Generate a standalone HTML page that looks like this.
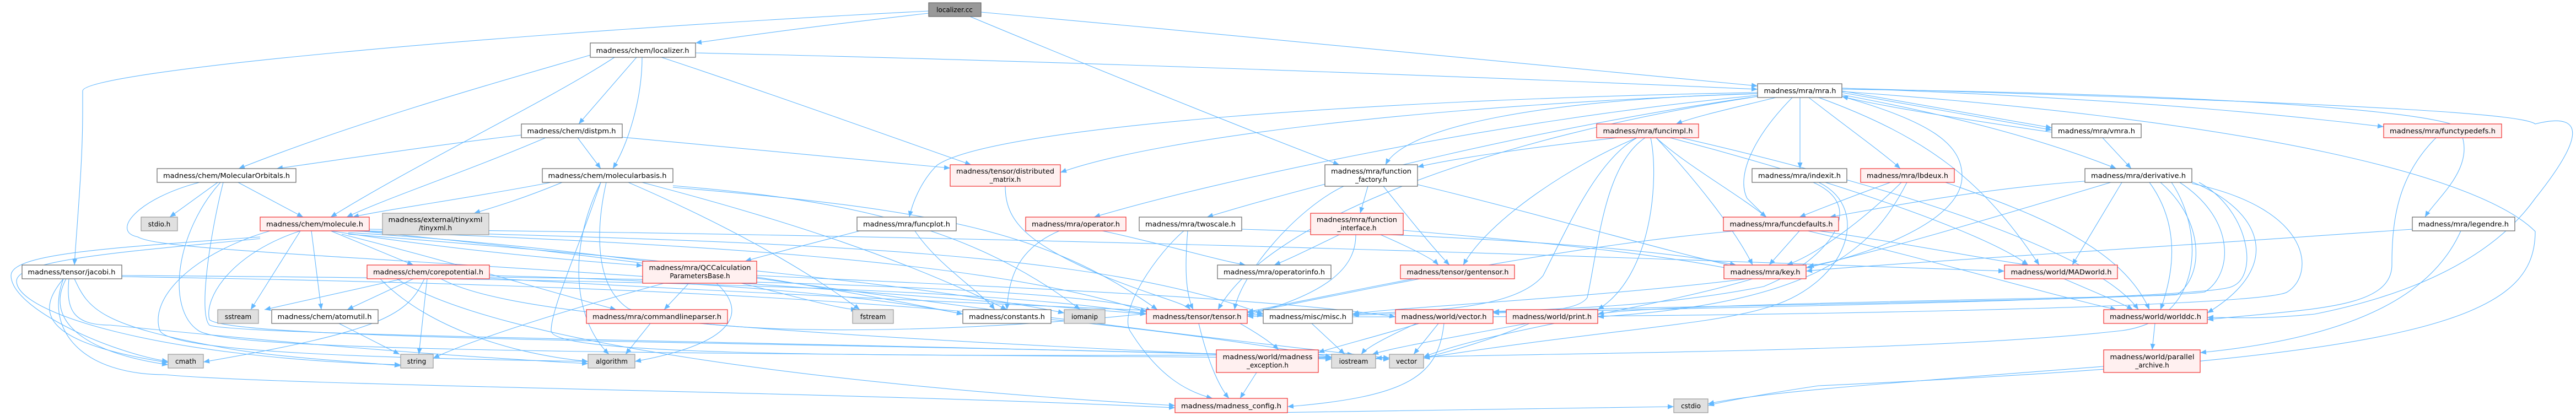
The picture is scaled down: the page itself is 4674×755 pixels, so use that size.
<!DOCTYPE html>
<html><head><meta charset="utf-8"><style>
html,body{margin:0;padding:0;background:#fff;}
svg{display:block;}
.e{fill:none;stroke:#63b8ff;stroke-width:1.1;marker-end:url(#a);}
.w{fill:#fff;stroke:#666;stroke-width:1.2;}
.r{fill:#fff0f0;stroke:#f03030;stroke-width:1.2;}
.g{fill:#e0e0e0;stroke:#999;stroke-width:1.2;}
.c{fill:#999;stroke:#666;stroke-width:1.2;}
text{font-family:"DejaVu Sans","Liberation Sans",sans-serif;font-size:12px;fill:#000;text-anchor:middle;}
</style></head><body>
<svg width="4674" height="755" viewBox="0 0 4674 755" xmlns="http://www.w3.org/2000/svg">
<defs><marker id="a" markerUnits="userSpaceOnUse" markerWidth="12" markerHeight="10" refX="11" refY="5" orient="auto"><path d="M0,0.5 L11,5 L0,9.5 z" fill="#63b8ff"/></marker></defs>
<g>
<path class="e" d="M1685,24 C1500,45 1350,65 1262,78"/>
<path class="e" d="M1780,22 C2300,70 2900,125 3189,156"/>
<path class="e" d="M1685,20 C900,60 150,130 150,165 L150,200 C150,300 140,400 135,481"/>
<path class="e" d="M1760,30 C2000,130 2300,250 2430,299"/>
<path class="e" d="M1071,100 C900,150 650,220 433,306"/>
<path class="e" d="M1115,104 C1000,180 750,300 600,394"/>
<path class="e" d="M1155,104 L1050,225"/>
<path class="e" d="M1165,104 C1165,180 1140,260 1112,306"/>
<path class="e" d="M1200,104 C1400,170 1650,260 1762,299"/>
<path class="e" d="M1262,96 C1900,110 2700,140 3189,162"/>
<path class="e" d="M946,245 C800,262 650,285 502,306"/>
<path class="e" d="M990,250 C850,310 700,360 629,394"/>
<path class="e" d="M1048,250 L1090,306"/>
<path class="e" d="M1129,249 C1400,275 1600,295 1724,305"/>
<path class="e" d="M395,331 L308,394"/>
<path class="e" d="M432,331 L550,394"/>
<path class="e" d="M362,331 C250,360 200,420 250,430 C300,460 800,465 2080,570"/>
<path class="e" d="M400,331 C320,420 300,560 360,600 C420,640 1200,640 2416,650"/>
<path class="e" d="M405,331 C380,430 360,570 380,590 C420,610 1500,620 2521,652"/>
<path class="e" d="M1020,331 C950,360 900,375 860,387"/>
<path class="e" d="M1000,331 C850,360 700,380 640,394"/>
<path class="e" d="M1090,331 C1030,450 1040,580 1105,643"/>
<path class="e" d="M1100,331 C1080,420 1080,520 1140,560 C1300,620 1800,600 2090,568"/>
<path class="e" d="M1140,331 C1300,400 1450,480 1560,562"/>
<path class="e" d="M1165,331 C1350,380 1600,450 1827,562"/>
<path class="e" d="M1221,337 C1500,360 1750,400 1960,562"/>
<path class="e" d="M1221,340 C1700,380 1900,420 2100,562"/>
<path class="e" d="M1090,331 C1050,450 1000,560 1000,600 C1000,640 1400,650 2456,643"/>
<path class="e" d="M545,419 L455,562"/>
<path class="e" d="M565,419 L583,562"/>
<path class="e" d="M600,419 L750,481"/>
<path class="e" d="M472,430 C200,450 20,460 20,500 C20,560 200,640 305,656"/>
<path class="e" d="M472,433 C250,455 30,470 30,510 C30,570 300,650 727,662"/>
<path class="e" d="M490,419 C350,460 270,540 290,600 C310,640 700,650 1067,656"/>
<path class="e" d="M545,419 C420,460 370,540 380,580 C420,620 1500,620 2416,648"/>
<path class="e" d="M600,419 C800,450 1000,470 1166,482"/>
<path class="e" d="M632,419 C1200,440 1800,470 2080,566"/>
<path class="e" d="M632,422 C1100,450 1500,520 1747,570"/>
<path class="e" d="M632,425 C1200,470 1700,520 1931,568"/>
<path class="e" d="M620,425 C800,470 1000,530 1118,562"/>
<path class="e" d="M670,419 C1500,440 2000,460 2292,570"/>
<path class="e" d="M670,416 C2000,430 3000,470 3637,492"/>
<path class="e" d="M650,419 C1200,470 1700,560 2521,650"/>
<path class="e" d="M730,506 L480,562"/>
<path class="e" d="M750,506 L630,562"/>
<path class="e" d="M770,506 C740,570 700,600 369,657"/>
<path class="e" d="M775,506 L760,643"/>
<path class="e" d="M690,506 C760,580 900,640 1067,656"/>
<path class="e" d="M800,506 C900,560 1200,600 2416,652"/>
<path class="e" d="M888,503 C1500,510 2000,530 2090,565"/>
<path class="e" d="M888,500 C1300,510 1600,540 1747,570"/>
<path class="e" d="M888,505 C1500,540 2000,560 2292,572"/>
<path class="e" d="M720,506 C900,620 1500,700 2132,736"/>
<path class="e" d="M615,587 L725,643"/>
<path class="e" d="M115,506 C70,560 60,620 305,658"/>
<path class="e" d="M120,506 C80,580 150,640 305,662"/>
<path class="e" d="M125,506 C120,560 130,590 200,590 C400,610 700,640 1067,660"/>
<path class="e" d="M135,506 C160,560 180,590 400,630 C500,650 700,660 727,664"/>
<path class="e" d="M115,506 C80,600 150,680 300,680 C500,700 1500,710 2132,740"/>
<path class="e" d="M221,500 C1000,505 1800,520 2080,570"/>
<path class="e" d="M221,502 C1000,515 1800,540 2416,648"/>
<path class="e" d="M1250,514 L1205,562"/>
<path class="e" d="M1205,514 C1000,570 850,620 786,650"/>
<path class="e" d="M1300,514 C1350,560 1350,620 1152,656"/>
<path class="e" d="M1345,514 C1450,540 1520,560 1555,562"/>
<path class="e" d="M1373,500 C1800,520 2300,540 2532,575"/>
<path class="e" d="M1180,587 L1135,643"/>
<path class="e" d="M1660,419 C1700,480 1780,530 1805,562"/>
<path class="e" d="M1560,419 C1480,440 1400,460 1352,474"/>
<path class="e" d="M1824,338 C1824,400 1860,440 2000,500 C2100,540 2150,550 2160,562"/>
<path class="e" d="M1922,419 C1850,450 1830,500 1827,562"/>
<path class="e" d="M2000,419 C2100,440 2200,470 2260,481"/>
<path class="e" d="M2148,419 C2100,460 2030,560 2050,600 C2100,680 2150,710 2200,723"/>
<path class="e" d="M2155,419 C2150,480 2150,530 2165,562"/>
<path class="e" d="M2253,416 C2700,430 3000,450 3150,481"/>
<path class="e" d="M2175,587 C2190,650 2210,700 2230,723"/>
<path class="e" d="M2250,587 C2290,610 2310,625 2320,635"/>
<path class="e" d="M2280,676 L2250,723"/>
<path class="e" d="M2380,587 L2440,643"/>
<path class="e" d="M2570,587 C2520,610 2480,630 2470,643"/>
<path class="e" d="M2610,587 L2565,643"/>
<path class="e" d="M2575,587 C2500,610 2420,630 2392,640"/>
<path class="e" d="M2620,587 C2610,680 2560,720 2336,738"/>
<path class="e" d="M2770,587 C2650,610 2530,630 2490,643"/>
<path class="e" d="M2775,587 C2700,620 2620,640 2583,650"/>
<path class="e" d="M2482,338 L2468,387"/>
<path class="e" d="M2510,338 C2560,400 2600,450 2630,481"/>
<path class="e" d="M2438,338 C2350,380 2250,500 2240,562"/>
<path class="e" d="M2572,335 C2800,390 3000,450 3150,484"/>
<path class="e" d="M2430,426 C2380,450 2340,470 2312,481"/>
<path class="e" d="M2505,426 C2560,450 2600,470 2610,481"/>
<path class="e" d="M2460,426 C2460,480 2420,530 2263,572"/>
<path class="e" d="M2546,418 C2800,440 3000,460 3140,488"/>
<path class="e" d="M2576,506 C2450,530 2300,560 2263,568"/>
<path class="e" d="M2935,250 C2800,265 2650,285 2572,303"/>
<path class="e" d="M2970,250 C2850,300 2700,400 2655,481"/>
<path class="e" d="M2970,250 C2900,290 2850,400 2800,500 C2750,560 2600,565 2455,570"/>
<path class="e" d="M2985,250 C2910,300 2900,450 2880,540 C2860,570 2750,565 2709,566"/>
<path class="e" d="M2995,250 C3010,320 3000,500 2899,562"/>
<path class="e" d="M3005,250 C3080,330 3150,420 3180,481"/>
<path class="e" d="M3005,250 C3060,300 3150,350 3205,394"/>
<path class="e" d="M3030,250 C3300,320 3600,420 3680,481"/>
<path class="e" d="M3050,250 C3400,330 3800,450 3880,562"/>
<path class="e" d="M3342,165 L3723,232"/>
<path class="e" d="M3342,168 L3723,236"/>
<path class="e" d="M3266,177 L3266,306"/>
<path class="e" d="M3282,177 C3350,230 3420,280 3448,306"/>
<path class="e" d="M3342,172 C3600,220 3750,270 3840,306"/>
<path class="e" d="M3252,177 C3180,250 3150,320 3170,360 C3190,380 3200,390 3205,394"/>
<path class="e" d="M3189,170 C2800,180 2550,230 2514,299"/>
<path class="e" d="M3222,177 C3150,195 3080,210 3041,225"/>
<path class="e" d="M3189,173 C2700,220 2200,330 1985,394"/>
<path class="e" d="M3189,175 C2800,230 2400,330 2190,394"/>
<path class="e" d="M3189,168 C2500,180 1800,230 1700,300 C1670,330 1655,370 1650,394"/>
<path class="e" d="M3189,170 C2600,190 2100,250 1924,313"/>
<path class="e" d="M3189,175 C2700,250 2300,400 2210,562"/>
<path class="e" d="M3342,162 C4000,170 4400,200 4460,230 C4500,300 4420,360 4400,394"/>
<path class="e" d="M3342,160 C3900,180 4200,215 4325,230"/>
<path class="e" d="M3342,160 C4400,190 4580,210 4600,225 C4700,200 4680,260 4600,360 C4500,500 4300,550 4200,570 C4100,580 4050,576 4005,576"/>
<path class="e" d="M3342,166 C4100,220 4500,320 4600,420 C4600,580 4400,650 3300,700 C3200,715 3120,730 3099,736"/>
<path class="e" d="M3300,177 C3500,250 3600,330 3700,481"/>
<path class="e" d="M3342,175 C3500,220 3560,260 3560,320 C3560,400 3400,460 3277,486"/>
<path class="e" d="M3723,240 C3550,215 3400,190 3342,175"/>
<path class="e" d="M3815,250 L3867,306"/>
<path class="e" d="M3300,331 C3400,380 3350,520 3200,560 C3100,590 2900,600 2583,650"/>
<path class="e" d="M3290,331 C3400,380 3300,480 3200,520 C3000,560 2800,560 2709,566"/>
<path class="e" d="M3430,331 C3350,360 3300,380 3265,394"/>
<path class="e" d="M3450,331 C3380,400 3300,460 3242,481"/>
<path class="e" d="M3460,331 C3400,450 3300,550 2899,575"/>
<path class="e" d="M3530,331 C3700,390 3850,450 3900,562"/>
<path class="e" d="M3810,327 C3600,340 3400,380 3320,394"/>
<path class="e" d="M3850,331 L3760,481"/>
<path class="e" d="M3830,331 C3600,400 3400,460 3280,484"/>
<path class="e" d="M3900,331 C3950,400 3950,480 3920,562"/>
<path class="e" d="M3977,330 C4100,380 4150,480 4005,568"/>
<path class="e" d="M3920,331 C4000,400 4000,500 3950,535 C3900,540 3000,550 2899,570"/>
<path class="e" d="M3990,331 C4080,380 4100,500 4050,520 C4000,545 3000,560 2709,568"/>
<path class="e" d="M3955,331 C4060,400 4050,500 4000,530 C3900,545 3000,555 2454,572"/>
<path class="e" d="M3977,333 C4200,380 4200,500 4150,530 C4100,560 3000,580 2263,574"/>
<path class="e" d="M3940,331 C4000,420 4000,580 3850,600 C3500,640 2800,640 2496,650"/>
<path class="e" d="M3265,419 L3210,481"/>
<path class="e" d="M3300,419 C3450,440 3600,470 3680,481"/>
<path class="e" d="M3280,419 C3500,470 3700,530 3840,562"/>
<path class="e" d="M3150,419 C2800,450 2400,540 2263,566"/>
<path class="e" d="M3170,506 C2900,540 2500,560 2454,570"/>
<path class="e" d="M3180,506 C3000,560 2700,600 2583,648"/>
<path class="e" d="M3745,506 C3800,530 3850,550 3870,562"/>
<path class="e" d="M3910,587 L3905,635"/>
<path class="e" d="M3817,665 C3500,690 3200,710 3099,733"/>
<path class="e" d="M4420,250 C4350,320 4340,400 4340,480 C4340,560 4200,560 4005,580"/>
<path class="e" d="M4465,419 C4420,520 4300,610 3992,640"/>
<path class="e" d="M4377,416 C3900,450 3400,480 3277,492"/>
<path class="e" d="M2300,749 C2600,745 2900,740 3037,738"/>
</g>
<g>
<rect class="c" x="1685" y="5" width="95" height="25"/><text x="1732" y="22">localizer.cc</text>
<rect class="w" x="1071" y="78" width="191" height="26"/><text x="1166" y="96" textLength="169" lengthAdjust="spacingAndGlyphs">madness/chem/localizer.h</text>
<rect class="w" x="946" y="225" width="183" height="25"/><text x="1037" y="242" textLength="161" lengthAdjust="spacingAndGlyphs">madness/chem/distpm.h</text>
<rect class="w" x="984" y="306" width="237" height="25"/><text x="1102" y="323" textLength="215" lengthAdjust="spacingAndGlyphs">madness/chem/molecularbasis.h</text>
<rect class="w" x="285" y="306" width="252" height="25"/><text x="411" y="323" textLength="230" lengthAdjust="spacingAndGlyphs">madness/chem/MolecularOrbitals.h</text>
<rect class="g" x="256" y="394" width="66" height="25"/><text x="289" y="411">stdio.h</text>
<rect class="r" x="472" y="394" width="198" height="25"/><text x="571" y="411" textLength="176" lengthAdjust="spacingAndGlyphs">madness/chem/molecule.h</text>
<rect class="g" x="694" y="387" width="193" height="39"/><text x="790" y="403" textLength="171" lengthAdjust="spacingAndGlyphs">madness/external/tinyxml</text><text x="790" y="418">/tinyxml.h</text>
<rect class="w" x="40" y="481" width="181" height="25"/><text x="130" y="498" textLength="159" lengthAdjust="spacingAndGlyphs">madness/tensor/jacobi.h</text>
<rect class="r" x="666" y="481" width="222" height="25"/><text x="777" y="498" textLength="200" lengthAdjust="spacingAndGlyphs">madness/chem/corepotential.h</text>
<rect class="g" x="395" y="562" width="74" height="25"/><text x="432" y="579">sstream</text>
<rect class="w" x="493" y="562" width="193" height="25"/><text x="589" y="579" textLength="171" lengthAdjust="spacingAndGlyphs">madness/chem/atomutil.h</text>
<rect class="g" x="305" y="643" width="64" height="25"/><text x="337" y="660">cmath</text>
<rect class="g" x="727" y="643" width="59" height="25"/><text x="756" y="660">string</text>
<rect class="r" x="1166" y="474" width="207" height="40"/><text x="1270" y="490" textLength="185" lengthAdjust="spacingAndGlyphs">madness/mra/QCCalculation</text><text x="1270" y="505">ParametersBase.h</text>
<rect class="r" x="1064" y="562" width="256" height="25"/><text x="1192" y="579" textLength="234" lengthAdjust="spacingAndGlyphs">madness/mra/commandlineparser.h</text>
<rect class="g" x="1067" y="643" width="85" height="25"/><text x="1110" y="660">algorithm</text>
<rect class="g" x="1547" y="562" width="74" height="25"/><text x="1584" y="579">fstream</text>
<rect class="w" x="1555" y="394" width="180" height="25"/><text x="1645" y="411" textLength="158" lengthAdjust="spacingAndGlyphs">madness/mra/funcplot.h</text>
<rect class="r" x="1724" y="299" width="200" height="39"/><text x="1824" y="315" textLength="178" lengthAdjust="spacingAndGlyphs">madness/tensor/distributed</text><text x="1824" y="330">_matrix.h</text>
<rect class="r" x="1861" y="394" width="182" height="25"/><text x="1952" y="411" textLength="160" lengthAdjust="spacingAndGlyphs">madness/mra/operator.h</text>
<rect class="w" x="2067" y="394" width="186" height="25"/><text x="2160" y="411" textLength="164" lengthAdjust="spacingAndGlyphs">madness/mra/twoscale.h</text>
<rect class="w" x="2209" y="481" width="206" height="25"/><text x="2312" y="498" textLength="184" lengthAdjust="spacingAndGlyphs">madness/mra/operatorinfo.h</text>
<rect class="w" x="1747" y="562" width="160" height="25"/><text x="1827" y="579" textLength="138" lengthAdjust="spacingAndGlyphs">madness/constants.h</text>
<rect class="g" x="1931" y="562" width="74" height="25"/><text x="1968" y="579">iomanip</text>
<rect class="r" x="2080" y="562" width="183" height="25"/><text x="2172" y="579" textLength="161" lengthAdjust="spacingAndGlyphs">madness/tensor/tensor.h</text>
<rect class="w" x="2292" y="562" width="162" height="25"/><text x="2373" y="579" textLength="140" lengthAdjust="spacingAndGlyphs">madness/misc/misc.h</text>
<rect class="r" x="2207" y="635" width="185" height="41"/><text x="2300" y="652" textLength="163" lengthAdjust="spacingAndGlyphs">madness/world/madness</text><text x="2300" y="667">_exception.h</text>
<rect class="r" x="2132" y="723" width="204" height="26"/><text x="2234" y="741" textLength="182" lengthAdjust="spacingAndGlyphs">madness/madness_config.h</text>
<rect class="w" x="2404" y="299" width="168" height="39"/><text x="2488" y="315" textLength="146" lengthAdjust="spacingAndGlyphs">madness/mra/function</text><text x="2488" y="330">_factory.h</text>
<rect class="r" x="2378" y="387" width="168" height="39"/><text x="2462" y="403" textLength="146" lengthAdjust="spacingAndGlyphs">madness/mra/function</text><text x="2462" y="418">_interface.h</text>
<rect class="r" x="2541" y="481" width="207" height="25"/><text x="2645" y="498" textLength="185" lengthAdjust="spacingAndGlyphs">madness/tensor/gentensor.h</text>
<rect class="r" x="2897" y="225" width="185" height="25"/><text x="2990" y="242" textLength="163" lengthAdjust="spacingAndGlyphs">madness/mra/funcimpl.h</text>
<rect class="r" x="2532" y="562" width="177" height="25"/><text x="2620" y="579" textLength="155" lengthAdjust="spacingAndGlyphs">madness/world/vector.h</text>
<rect class="r" x="2733" y="562" width="166" height="25"/><text x="2816" y="579" textLength="144" lengthAdjust="spacingAndGlyphs">madness/world/print.h</text>
<rect class="g" x="2416" y="643" width="80" height="25"/><text x="2456" y="660">iostream</text>
<rect class="g" x="2521" y="643" width="62" height="25"/><text x="2552" y="660">vector</text>
<rect class="g" x="3037" y="724" width="62" height="25"/><text x="3068" y="741">cstdio</text>
<rect class="w" x="3189" y="152" width="153" height="25"/><text x="3266" y="169" textLength="131" lengthAdjust="spacingAndGlyphs">madness/mra/mra.h</text>
<rect class="w" x="3723" y="225" width="162" height="25"/><text x="3804" y="242" textLength="140" lengthAdjust="spacingAndGlyphs">madness/mra/vmra.h</text>
<rect class="w" x="3179" y="306" width="172" height="25"/><text x="3265" y="323" textLength="150" lengthAdjust="spacingAndGlyphs">madness/mra/indexit.h</text>
<rect class="r" x="3376" y="306" width="170" height="25"/><text x="3461" y="323" textLength="148" lengthAdjust="spacingAndGlyphs">madness/mra/lbdeux.h</text>
<rect class="w" x="3783" y="306" width="194" height="25"/><text x="3880" y="323" textLength="172" lengthAdjust="spacingAndGlyphs">madness/mra/derivative.h</text>
<rect class="r" x="3127" y="394" width="209" height="25"/><text x="3232" y="411" textLength="187" lengthAdjust="spacingAndGlyphs">madness/mra/funcdefaults.h</text>
<rect class="r" x="3128" y="481" width="149" height="25"/><text x="3203" y="498" textLength="127" lengthAdjust="spacingAndGlyphs">madness/mra/key.h</text>
<rect class="r" x="3637" y="481" width="205" height="25"/><text x="3740" y="498" textLength="183" lengthAdjust="spacingAndGlyphs">madness/world/MADworld.h</text>
<rect class="r" x="3817" y="562" width="188" height="25"/><text x="3911" y="579" textLength="166" lengthAdjust="spacingAndGlyphs">madness/world/worlddc.h</text>
<rect class="r" x="3817" y="635" width="175" height="41"/><text x="3905" y="652" textLength="153" lengthAdjust="spacingAndGlyphs">madness/world/parallel</text><text x="3905" y="667">_archive.h</text>
<rect class="r" x="4325" y="225" width="214" height="25"/><text x="4432" y="242" textLength="192" lengthAdjust="spacingAndGlyphs">madness/mra/functypedefs.h</text>
<rect class="w" x="4377" y="394" width="186" height="25"/><text x="4470" y="411" textLength="164" lengthAdjust="spacingAndGlyphs">madness/mra/legendre.h</text>
</g>
</svg>
</body></html>
